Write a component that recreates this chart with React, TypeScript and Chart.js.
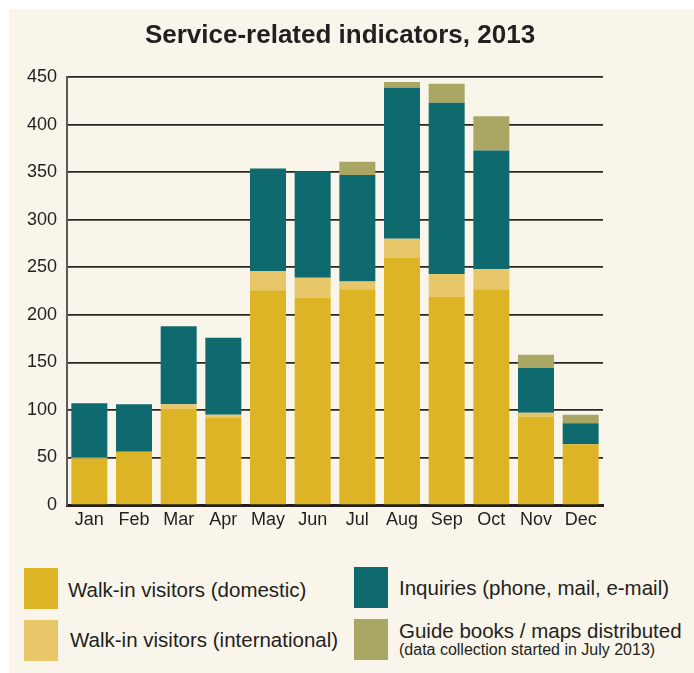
import React, { useEffect, useRef } from "react";
import { Chart, registerables } from "chart.js";

Chart.register(...registerables);

const months = ["Jan", "Feb", "Mar", "Apr", "May", "Jun", "Jul", "Aug", "Sep", "Oct", "Nov", "Dec"];
const walkInDomestic = [49, 56, 101, 92, 226, 218, 227, 260, 219, 227, 93, 64];
const walkInInternational = [1, 0, 5, 3, 20, 21, 8, 20, 24, 21, 4, 0];
const inquiries = [57, 50, 82, 81, 108, 112, 112, 159, 180, 125, 47, 22];
const guideBooks = [null, null, null, null, null, null, 14, 6, 20, 36, 14, 9];
const yTicks = [0, 50, 100, 150, 200, 250, 300, 350, 400, 450];

const FONT = "'Liberation Sans', Arial, Helvetica, sans-serif";
const TEXT = "#231f20";
const BG = "#f9f5ea";
const C_DOM = "#dcb426";
const C_INT = "#e8c66a";
const C_INQ = "#0f6a70";
const C_GUIDE = "#a9a763";

const titleShift = {
  id: "titleShift",
  afterLayout(chart: any) {
    const t = chart.titleBlock;
    if (t) {
      t.left += 5;
      t.right += 5;
    }
  },
};

export default function App() {
  const ref = useRef<HTMLCanvasElement>(null);

  useEffect(() => {
    const chart = new Chart(ref.current as HTMLCanvasElement, {
      type: "bar",
      data: {
        labels: months,
        datasets: [
          { label: "Walk-in visitors (domestic)", data: walkInDomestic, backgroundColor: C_DOM },
          { label: "Walk-in visitors (international)", data: walkInInternational, backgroundColor: C_INT },
          { label: "Inquiries (phone, mail, e-mail)", data: inquiries, backgroundColor: C_INQ },
          { label: "Guide books / maps distributed", data: guideBooks as any, backgroundColor: C_GUIDE },
        ],
      },
      options: {
        animation: false,
        responsive: false,
        devicePixelRatio: 1,
        layout: { padding: { left: 0, right: 91, top: 0, bottom: 4 } },
        datasets: { bar: { barPercentage: 0.806, categoryPercentage: 1, borderWidth: 0 } } as any,
        plugins: {
          legend: { display: false },
          tooltip: { enabled: false },
          title: {
            display: true,
            text: "Service-related indicators, 2013",
            color: TEXT,
            font: { family: FONT, size: 26, weight: "bold" },
            padding: { top: 11, bottom: 26 },
            fullSize: false,
          },
        },
        scales: {
          x: {
            stacked: true,
            grid: { display: false, drawTicks: false },
            border: { display: true, color: "#231f20", width: 3 },
            ticks: { color: TEXT, font: { family: FONT, size: 18 }, padding: 4 },
            afterFit(scale: any) {
              scale.height = 30;
            },
          },
          y: {
            stacked: true,
            min: yTicks[0],
            max: yTicks[yTicks.length - 1],
            afterBuildTicks(scale: any) {
              scale.ticks = yTicks.map((v) => ({ value: v }));
            },
            ticks: { color: TEXT, font: { family: FONT, size: 18 }, padding: 10 },
            grid: { color: "#2a2622", lineWidth: 1.7, drawTicks: false },
            border: { display: true, color: "#5e5a55", width: 2 },
            afterFit(scale: any) {
              scale.width = 58;
            },
          },
        },
      },
      plugins: [titleShift],
    });
    return () => chart.destroy();
  }, []);

  const sq = (left: number, top: number, color: string) => (
    <div style={{ position: "absolute", left, top, width: 34, height: 41, background: color }} />
  );
  const txt = (left: number, centerY: number, text: string, size = 20.5) => (
    <div
      style={{
        position: "absolute",
        left,
        top: centerY - size / 2,
        fontSize: size,
        lineHeight: `${size}px`,
        whiteSpace: "nowrap",
        color: TEXT,
        fontFamily: FONT,
      }}
    >
      {text}
    </div>
  );

  return (
    <>
      <style>{`html,body{overflow:hidden}body{margin:9px 0 0 9px;background:#fff}`}</style>
      <div style={{ position: "relative", width: 720, height: 700, background: BG, fontFamily: FONT }}>
        <canvas ref={ref} width={685} height={530} style={{ display: "block" }} />
        {sq(15, 559, C_DOM)}
        {txt(59, 581, "Walk-in visitors (domestic)")}
        {sq(15, 611, C_INT)}
        {txt(61, 631, "Walk-in visitors (international)")}
        {sq(345, 558, C_INQ)}
        {txt(390, 579, "Inquiries (phone, mail, e-mail)")}
        {sq(345, 610, C_GUIDE)}
        {txt(390, 622, "Guide books / maps distributed")}
        {txt(390, 641, "(data collection started in July 2013)", 16)}
      </div>
    </>
  );
}
